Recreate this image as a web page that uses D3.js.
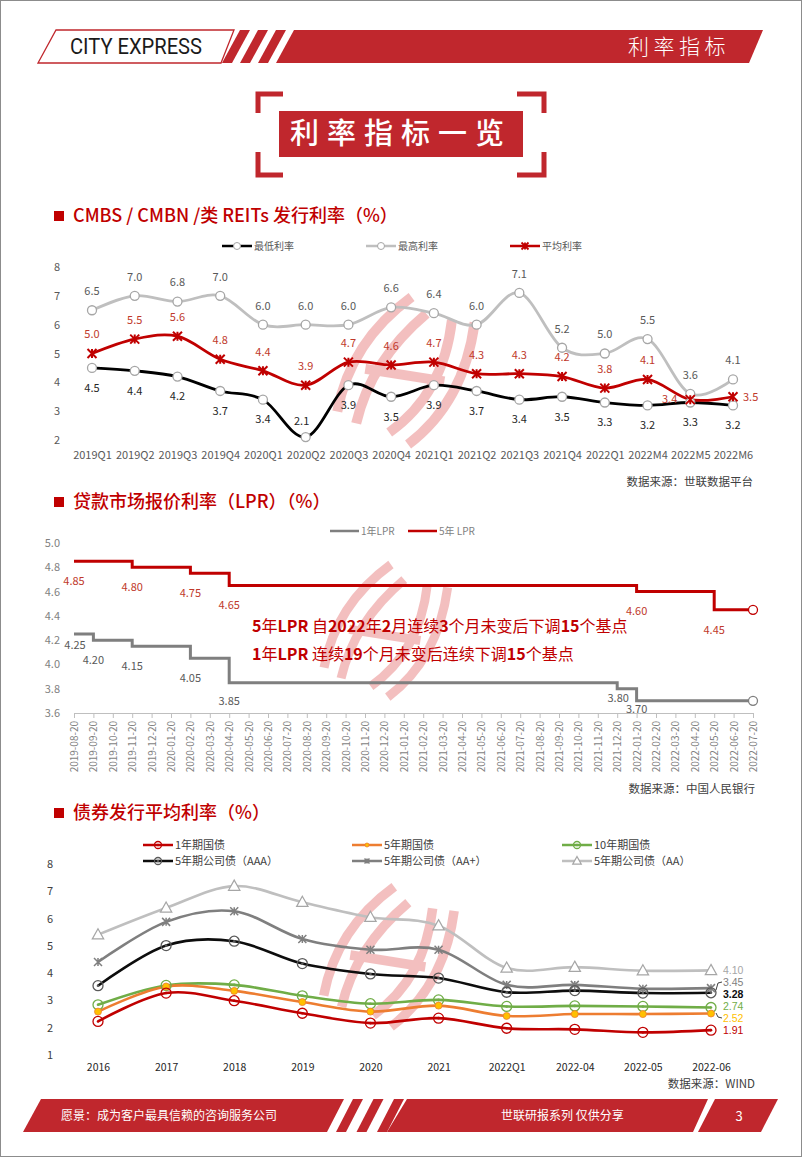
<!DOCTYPE html>
<html><head><meta charset="utf-8">
<script src="https://cdn.jsdelivr.net/npm/d3@7"></script>
<style>
body{margin:0;background:#fff}
svg{display:block}
text{font-family:"Noto Sans CJK SC","Noto Sans",sans-serif}
</style>
</head><body>
<svg id="c" width="802" height="1157"></svg>
<script>
// ---------- Chart 1 data: CMBS / CMBN / REITs ----------
const cats1 = ["2019Q1","2019Q2","2019Q3","2019Q4","2020Q1","2020Q2","2020Q3","2020Q4","2021Q1","2021Q2","2021Q3","2021Q4","2022Q1","2022M4","2022M5","2022M6"];
const minRate = [4.5,4.4,4.2,3.7,3.4,2.1,3.9,3.5,3.9,3.7,3.4,3.5,3.3,3.2,3.3,3.2];
const maxRate = [6.5,7.0,6.8,7.0,6.0,6.0,6.0,6.6,6.4,6.0,7.1,5.2,5.0,5.5,3.6,4.1];
const avgRate = [5.0,5.5,5.6,4.8,4.4,3.9,4.7,4.6,4.7,4.3,4.3,4.2,3.8,4.1,3.4,3.5];
const ticks1 = [2,3,4,5,6,7,8];

// ---------- Chart 2 data: LPR ----------
const months = ["2019-08-20","2019-09-20","2019-10-20","2019-11-20","2019-12-20","2020-01-20","2020-02-20","2020-03-20","2020-04-20","2020-05-20","2020-06-20","2020-07-20","2020-08-20","2020-09-20","2020-10-20","2020-11-20","2020-12-20","2021-01-20","2021-02-20","2021-03-20","2021-04-20","2021-05-20","2021-06-20","2021-07-20","2021-08-20","2021-09-20","2021-10-20","2021-11-20","2021-12-20","2022-01-20","2022-02-20","2022-03-20","2022-04-20","2022-05-20","2022-06-20","2022-07-20"];
const lpr1 = [4.25,4.20,4.20,4.15,4.15,4.15,4.05,4.05,3.85,3.85,3.85,3.85,3.85,3.85,3.85,3.85,3.85,3.85,3.85,3.85,3.85,3.85,3.85,3.85,3.85,3.85,3.85,3.85,3.80,3.70,3.70,3.70,3.70,3.70,3.70,3.70];
const lpr5 = [4.85,4.85,4.85,4.80,4.80,4.80,4.75,4.75,4.65,4.65,4.65,4.65,4.65,4.65,4.65,4.65,4.65,4.65,4.65,4.65,4.65,4.65,4.65,4.65,4.65,4.65,4.65,4.65,4.65,4.60,4.60,4.60,4.60,4.45,4.45,4.45];
const ticks2 = [3.6,3.8,4.0,4.2,4.4,4.6,4.8,5.0];

// ---------- Chart 3 data: bond issuance ----------
const cats3 = ["2016","2017","2018","2019","2020","2021","2022Q1","2022-04","2022-05","2022-06"];
const gov1 = [2.23,3.27,2.99,2.53,2.17,2.35,1.98,1.94,1.83,1.91];
const gov5 = [2.59,3.51,3.35,2.94,2.59,2.81,2.43,2.50,2.50,2.52];
const gov10 = [2.84,3.55,3.57,3.17,2.88,3.02,2.78,2.80,2.78,2.74];
const corpAAA = [3.54,5.01,5.17,4.35,3.97,3.82,3.30,3.36,3.27,3.28];
const corpAAp = [4.41,5.88,6.27,5.25,4.86,4.86,3.57,3.57,3.43,3.45];
const corpAA = [5.41,6.39,7.19,6.60,6.05,5.74,4.19,4.22,4.09,4.10];
const ticks3 = [1,2,3,4,5,6,7,8];

const RED = "#c0272d", TRED = "#c00000";
const svg = d3.select("#c");

// page border
svg.append("rect").attr("x",0.5).attr("y",0.5).attr("width",801).attr("height",1156)
  .attr("fill","#fff").attr("stroke","#8c8c8c");

// ---------- header ----------
const poly = pts => "M" + pts.map(p=>p.join(",")).join("L") + "Z";
svg.append("path").attr("d",poly([[56,30],[234,30],[221,63],[38,63]]))
  .attr("fill","#fff").attr("stroke",RED).attr("stroke-width",1.3);
[0,1,2].forEach(i=>{
  const x0 = 240 + 18*i;
  svg.append("path").attr("d",poly([[x0,30],[x0+10,30],[x0-8,63],[x0-18,63]])).attr("fill",RED);
});
svg.append("path").attr("d",poly([[294,30],[763,30],[749,63],[276,63]])).attr("fill",RED);
svg.append("text").attr("x",70).attr("y",54).attr("font-size",22)
  .style("font-family","'Liberation Sans Narrow','Roboto',sans-serif")
  .attr("textLength",132).attr("lengthAdjust","spacingAndGlyphs")
  .attr("fill","#1a1a1a").text("CITY EXPRESS");
svg.append("text").attr("x",628).attr("y",54).attr("font-size",21).attr("fill","#fff")
  .attr("letter-spacing",4.5).attr("font-weight",300).text("利率指标");

// ---------- big title box ----------
svg.append("rect").attr("x",279).attr("y",111).attr("width",244).attr("height",46).attr("fill",RED);
const br = [[[258,113],[258,94],[283,94]],[[258,152],[258,175],[283,175]],[[517,94],[544,94],[544,113]],[[517,175],[544,175],[544,152]]];
br.forEach(b=>svg.append("path").attr("d","M"+b.map(p=>p.join(",")).join("L"))
  .attr("fill","none").attr("stroke",RED).attr("stroke-width",5));
svg.append("text").attr("x",290).attr("y",144).attr("font-size",29).attr("font-weight",500)
  .attr("fill","#fff").attr("letter-spacing",8).text("利率指标一览");

// ---------- section titles ----------
function sectionTitle(y, txt){
  svg.append("rect").attr("x",54).attr("y",y-5).attr("width",10).attr("height",10).attr("fill",TRED);
  svg.append("text").attr("x",73).attr("y",y).attr("dy","0.35em").attr("font-size",18)
    .attr("font-weight",500).attr("fill",TRED).text(txt);
}
sectionTitle(216,"CMBS / CMBN /类 REITs 发行利率（%）");
sectionTitle(502,"贷款市场报价利率（LPR）（%）");
sectionTitle(813,"债券发行平均利率（%）");

// ---------- watermark ----------
function logo(cx, cy, s){
  const lg = svg.append("g").attr("transform",`translate(${cx},${cy}) scale(${s}) rotate(22)`).attr("opacity",0.38);
  ["M-48,62 Q-62,-8 -22,-72","M-26,66 Q-36,2 -2,-62","M8,62 Q44,6 24,-66","M30,66 Q66,6 46,-72","M-38,12 L40,-6"]
    .forEach(p=>lg.append("path").attr("d",p).attr("fill","none").attr("stroke","#e05a5a").attr("stroke-width",10).attr("stroke-linecap","butt"));
}
logo(405,372,1);
logo(385,632,0.9);
logo(388,958,0.95);

// markers
const asterisk = (x,y,s)=>`M${x-s},${y-s}L${x+s},${y+s}M${x-s},${y+s}L${x+s},${y-s}M${x},${y-s}L${x},${y+s}`;
const tri = (x,y,s)=>`M${x},${y-s}L${x+s*0.95},${y+s*0.7}L${x-s*0.95},${y+s*0.7}Z`;

// ================= Chart 1 =================
const x1 = d3.scalePoint().domain(cats1).range([92,733]);
const y1 = d3.scaleLinear().domain([2,8]).range([440,267]);
const g1 = svg.append("g");
const ya1 = g1.append("g").attr("transform","translate(60,0)")
  .call(d3.axisLeft(y1).tickValues(ticks1).tickSize(0).tickPadding(0).tickFormat(d3.format("d")));
ya1.select(".domain").remove();
ya1.selectAll("text").attr("font-size",11).attr("fill","#595959");
const xa1 = g1.append("g").attr("transform","translate(0,451)")
  .call(d3.axisBottom(x1).tickSize(0).tickPadding(0));
xa1.select(".domain").remove();
xa1.selectAll("text").attr("font-size",11).attr("fill","#595959");

const line1 = d3.line().x((d,i)=>x1(cats1[i])).y(d=>y1(d)).curve(d3.curveCardinal);
g1.append("path").attr("d",line1(maxRate)).attr("fill","none").attr("stroke","#bfbfbf").attr("stroke-width",2.8);
g1.append("path").attr("d",line1(minRate)).attr("fill","none").attr("stroke","#000").attr("stroke-width",2.8);
g1.append("path").attr("d",line1(avgRate)).attr("fill","none").attr("stroke",TRED).attr("stroke-width",2.8);

[maxRate,minRate].forEach(arr=>{
  g1.selectAll(null).data(arr).enter().append("circle")
    .attr("cx",(d,i)=>x1(cats1[i])).attr("cy",d=>y1(d)).attr("r",4.5)
    .attr("fill","#fff").attr("stroke","#a6a6a6").attr("stroke-width",1.3);
});
g1.selectAll(null).data(avgRate).enter().append("path")
  .attr("d",(d,i)=>asterisk(x1(cats1[i]),y1(d),4.5)).attr("stroke",TRED).attr("stroke-width",2);

const lab1 = (arr, color, fn)=>g1.selectAll(null).data(arr).enter().append("text")
  .attr("font-size",11).attr("fill",color).attr("dy","0.35em")
  .each(function(d,i){
    const o = fn(i); const px = x1(cats1[i]), py = y1(d);
    d3.select(this).attr("x",px+o[0]).attr("y",py+o[1]).attr("text-anchor",o[2]||"middle");
  }).text(d=>d.toFixed(1));
lab1(maxRate,"#595959",i=>[0,-19]);
lab1(minRate,"#262626",i=>i===5?[-4,-16]:[0,20]);
lab1(avgRate,"#c0392b",i=>i===14?[-13,0,"end"]:i===15?[10,0,"start"]:[0,-19]);

// legend 1
const lg1 = svg.append("g").attr("font-size",10);
[[222,"#000","#a6a6a6","最低利率","c"],[366,"#bfbfbf","#a6a6a6","最高利率","c"],[510,TRED,TRED,"平均利率","a"]].forEach(l=>{
  const y = 246;
  lg1.append("line").attr("x1",l[0]).attr("x2",l[0]+30).attr("y1",y).attr("y2",y).attr("stroke",l[1]).attr("stroke-width",2.5);
  if(l[4]==="c") lg1.append("circle").attr("cx",l[0]+15).attr("cy",y).attr("r",3.5).attr("fill","#fff").attr("stroke",l[2]);
  else lg1.append("path").attr("d",asterisk(l[0]+15,y,3.5)).attr("stroke",l[2]).attr("stroke-width",1.8);
  lg1.append("text").attr("x",l[0]+32).attr("y",y).attr("dy","0.35em").attr("fill","#595959").text(l[3]);
});
svg.append("text").attr("x",753).attr("y",482).attr("dy","0.35em").attr("text-anchor","end")
  .attr("font-size",11.5).attr("fill","#404040").text("数据来源：世联数据平台");

// ================= Chart 2 =================
const x2 = d3.scalePoint().domain(months).range([74,753]);
const y2 = d3.scaleLinear().domain([3.6,5.0]).range([713,543]);
const g2 = svg.append("g");
const ya2 = g2.append("g").attr("transform","translate(60,0)")
  .call(d3.axisLeft(y2).tickValues(ticks2).tickSize(0).tickPadding(0).tickFormat(d3.format(".1f")));
ya2.select(".domain").remove();
ya2.selectAll("text").attr("font-size",11).attr("fill","#7f7f7f");
const xa2 = g2.append("g").attr("transform","translate(0,713)")
  .call(d3.axisBottom(x2).tickSize(5).tickSizeOuter(0));
xa2.select(".domain").attr("stroke","#bfbfbf");
xa2.selectAll(".tick line").attr("stroke","#bfbfbf");
xa2.selectAll("text").attr("transform","rotate(-90)").attr("x",-8).attr("y",0).attr("dy","0.35em")
  .attr("text-anchor","end").attr("font-size",10).attr("fill","#7f7f7f");

const line2 = d3.line().x((d,i)=>x2(months[i])).y(d=>y2(d)).curve(d3.curveStepAfter);
g2.append("path").attr("d",line2(lpr1)).attr("fill","none").attr("stroke","#7f7f7f").attr("stroke-width",3);
g2.append("path").attr("d",line2(lpr5)).attr("fill","none").attr("stroke",TRED).attr("stroke-width",3);
g2.append("circle").attr("cx",x2(months[35])).attr("cy",y2(lpr1[35])).attr("r",4.5).attr("fill","#fff").attr("stroke","#7f7f7f").attr("stroke-width",1.3);
g2.append("circle").attr("cx",x2(months[35])).attr("cy",y2(lpr5[35])).attr("r",4.5).attr("fill","#fff").attr("stroke",TRED).attr("stroke-width",1.3);

const l5idx = {0:[0,20],3:[0,20],6:[0,20],8:[0,20],29:[0,20],33:[0,20]};
const l1idx = {0:[1,11],1:[0,20],3:[0,20],6:[0,20],8:[0,19],28:[1,9],29:[0,8]};
Object.keys(l5idx).forEach(k=>{
  const i=+k, o=l5idx[k];
  g2.append("text").attr("x",x2(months[i])+o[0]).attr("y",y2(lpr5[i])+o[1]).attr("dy","0.35em")
    .attr("text-anchor","middle").attr("font-size",11).attr("fill","#c0392b").text(lpr5[i].toFixed(2));
});
Object.keys(l1idx).forEach(k=>{
  const i=+k, o=l1idx[k];
  g2.append("text").attr("x",x2(months[i])+o[0]).attr("y",y2(lpr1[i])+o[1]).attr("dy","0.35em")
    .attr("text-anchor","middle").attr("font-size",11).attr("fill","#595959").text(lpr1[i].toFixed(2));
});
// legend 2
[[330,"#7f7f7f","1年LPR"],[408,TRED,"5年 LPR"]].forEach(l=>{
  svg.append("line").attr("x1",l[0]).attr("x2",l[0]+29).attr("y1",531).attr("y2",531).attr("stroke",l[1]).attr("stroke-width",2.5);
  svg.append("text").attr("x",l[0]+31).attr("y",531).attr("dy","0.35em").attr("font-size",10).attr("fill","#7f7f7f").text(l[2]);
});
// annotations
function richText(x,y,parts){
  const t = svg.append("text").attr("x",x).attr("y",y).attr("dy","0.35em").attr("font-size",16).attr("fill",TRED);
  parts.forEach(p=>t.append("tspan").attr("font-weight",p[1]?700:400).text(p[0]));
}
richText(252,626,[["5",1],["年",0],["LPR",1],[" 自",0],["2022",1],["年",0],["2",1],["月连续",0],["3",1],["个月未变后下调",0],["15",1],["个基点",0]]);
richText(252,654,[["1",1],["年",0],["LPR",1],[" 连续",0],["19",1],["个月未变后连续下调",0],["15",1],["个基点",0]]);
svg.append("text").attr("x",755).attr("y",789).attr("dy","0.35em").attr("text-anchor","end")
  .attr("font-size",11.5).attr("fill","#404040").text("数据来源：中国人民银行");

// ================= Chart 3 =================
const x3 = d3.scalePoint().domain(cats3).range([98,711]);
const y3 = d3.scaleLinear().domain([1,8]).range([1055,864]);
const g3 = svg.append("g");
const ya3 = g3.append("g").attr("transform","translate(53,0)")
  .call(d3.axisLeft(y3).tickValues(ticks3).tickSize(0).tickPadding(0).tickFormat(d3.format("d")));
ya3.select(".domain").remove();
ya3.selectAll("text").attr("font-size",11).attr("fill","#404040");
const xa3 = g3.append("g").attr("transform","translate(0,1064)")
  .call(d3.axisBottom(x3).tickSize(0).tickPadding(0));
xa3.select(".domain").remove();
xa3.selectAll("text").attr("font-size",10.5).attr("fill","#262626");

const line3 = d3.line().x((d,i)=>x3(cats3[i])).y(d=>y3(d)).curve(d3.curveCardinal);
const series3 = [
  {v:corpAA, c:"#bfbfbf", m:"t", mc:"#a6a6a6", name:"5年期公司债（AA）"},
  {v:corpAAp, c:"#7f7f7f", m:"a", mc:"#7f7f7f", name:"5年期公司债（AA+）"},
  {v:corpAAA, c:"#0d0d0d", m:"c", mc:"#595959", name:"5年期公司债（AAA）"},
  {v:gov10, c:"#70ad47", m:"c", mc:"#70ad47", name:"10年期国债"},
  {v:gov5, c:"#ed7d31", m:"f", mc:"#ffc000", name:"5年期国债"},
  {v:gov1, c:"#c00000", m:"c", mc:"#c00000", name:"1年期国债"}
];
series3.forEach(s=>{
  g3.append("path").attr("d",line3(s.v)).attr("fill","none").attr("stroke",s.c).attr("stroke-width",2.6);
});
function marker3(g,s,x,y,r){
  if(s.m==="t") g.append("path").attr("d",tri(x,y,r+1)).attr("fill","#fff").attr("stroke",s.mc).attr("stroke-width",1.2);
  else if(s.m==="a") g.append("path").attr("d",asterisk(x,y,r-1)).attr("stroke",s.mc).attr("stroke-width",1.5);
  else if(s.m==="f") g.append("circle").attr("cx",x).attr("cy",y).attr("r",r-1.5).attr("fill",s.mc).attr("stroke","#ed7d31").attr("stroke-width",0.8);
  else { g.append("circle").attr("cx",x).attr("cy",y).attr("r",r).attr("fill","none").attr("stroke",s.mc).attr("stroke-width",1.3);
         g.append("circle").attr("cx",x).attr("cy",y).attr("r",1.3).attr("fill",s.mc); }
}
series3.forEach(s=>s.v.forEach((d,i)=>marker3(g3,s,x3(cats3[i]),y3(d),5)));

// end labels
const endLab = [[corpAA,"#a6a6a6",970],[corpAAp,"#7f7f7f",982],[corpAAA,"#0d0d0d",994],[gov10,"#70ad47",1006],[gov5,"#ffc000",1018],[gov1,"#c00000",1030]];
endLab.forEach(e=>{
  g3.append("text").attr("x",723).attr("y",e[2]).attr("dy","0.35em").attr("font-size",10.5)
    .style("font-family","'Liberation Sans Narrow','Liberation Sans',sans-serif")
    .attr("fill",e[1]).attr("font-weight",e[1]==="#0d0d0d"?700:400).text(e[0][9].toFixed(2));
});
g3.append("path").attr("d","M716,990L718,983L722,982").attr("fill","none").attr("stroke","#404040").attr("stroke-width",1);
g3.append("path").attr("d","M716,1013L718,1017L722,1018").attr("fill","none").attr("stroke","#404040").attr("stroke-width",1);

// legend 3
const legPos = [[143,845,5],[352,845,4],[562,845,3],[143,861,2],[352,861,1],[562,861,0]];
legPos.forEach(p=>{
  const s = series3[p[2]];
  svg.append("line").attr("x1",p[0]).attr("x2",p[0]+30).attr("y1",p[1]).attr("y2",p[1]).attr("stroke",s.c).attr("stroke-width",2.5);
  marker3(svg,s,p[0]+15,p[1],3.5);
  svg.append("text").attr("x",p[0]+32).attr("y",p[1]).attr("dy","0.35em").attr("font-size",11).attr("fill","#404040").text(s.name);
});
svg.append("text").attr("x",755).attr("y",1084).attr("dy","0.35em").attr("text-anchor","end")
  .attr("font-size",11.5).attr("fill","#404040").text("数据来源：WIND");

// ---------- footer ----------
svg.append("path").attr("d",poly([[41,1099],[344,1099],[327,1132],[23,1132]])).attr("fill",RED);
[0,1,2].forEach(i=>{
  const x0 = 353 + 20.5*i;
  svg.append("path").attr("d",poly([[x0,1099],[x0+10,1099],[x0-7,1132],[x0-17,1132]])).attr("fill",RED);
});
svg.append("path").attr("d",poly([[407,1099],[708,1099],[693,1132],[387,1132]])).attr("fill",RED);
svg.append("path").attr("d",poly([[715,1099],[778,1099],[761,1132],[698,1132]])).attr("fill",RED);
svg.append("text").attr("x",61).attr("y",1116).attr("dy","0.35em").attr("font-size",12).attr("fill","#fff").text("愿景：成为客户最具信赖的咨询服务公司");
svg.append("text").attr("x",501).attr("y",1116).attr("dy","0.35em").attr("font-size",12).attr("fill","#fff").text("世联研报系列 仅供分享");
svg.append("text").attr("x",739).attr("y",1116).attr("dy","0.35em").attr("text-anchor","middle").attr("font-size",13).attr("fill","#fff").text("3");
</script>
</body></html>
